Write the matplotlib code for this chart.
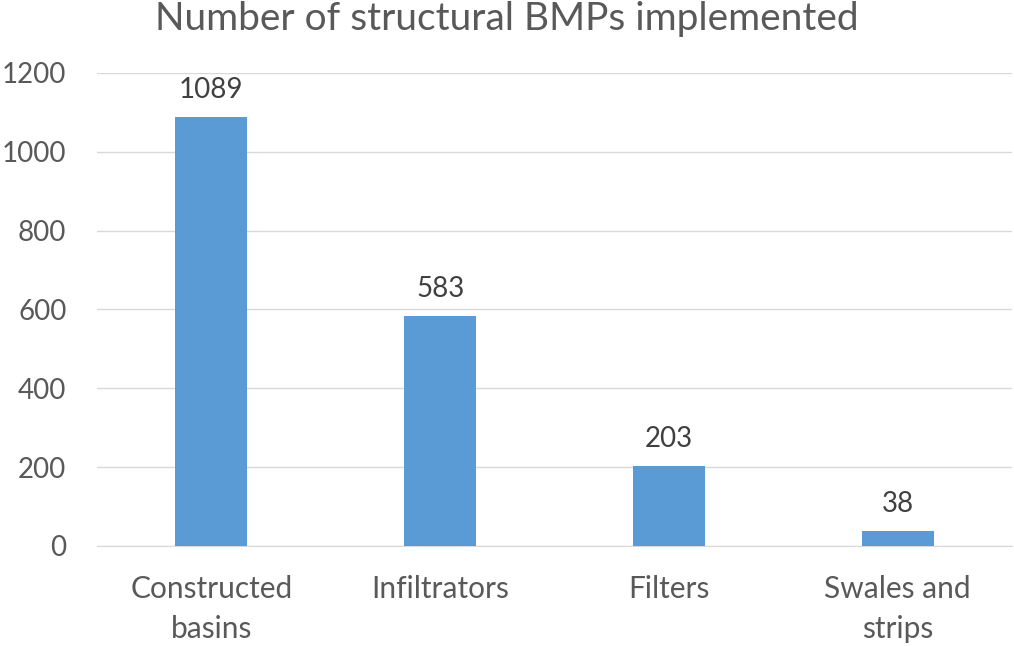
import matplotlib.pyplot as plt

categories = ["Constructed\nbasins", "Infiltrators", "Filters", "Swales and\nstrips"]
counts = [1089, 583, 203, 38]
yticks = [0, 200, 400, 600, 800, 1000, 1200]

plt.rcParams['font.family'] = ['Lato', 'DejaVu Sans']
grey = '#595959'

fig = plt.figure(figsize=(10.14, 6.46), dpi=100)
ax = fig.add_axes([0.0957, 0.1548, 0.9023, 0.7322])

x = range(len(categories))
bars = ax.bar(x, counts, width=0.315, color='#5B9BD5', zorder=3)
for b, v in zip(bars, counts):
    ax.annotate(str(v), (b.get_x() + b.get_width() / 2, v), xytext=(0, 10),
                textcoords='offset points', ha='center', va='bottom',
                fontsize=20, color='#404040')

ax.set_xlim(-0.5, len(categories) - 0.5)
ax.set_ylim(0, 1200)
ax.set_yticks(yticks)
ax.set_yticklabels([str(t) for t in yticks], fontsize=20, color=grey)
ax.set_xticks(list(x))
ax.set_xticklabels(categories, fontsize=21.5, color=grey, linespacing=1.5)
ax.tick_params(length=0)
ax.tick_params(axis='y', pad=22)
ax.tick_params(axis='x', pad=21)
ax.grid(axis='y', color='#D9D9D9', linewidth=1, zorder=0)
for s in ['top', 'right', 'left']:
    ax.spines[s].set_visible(False)
ax.spines['bottom'].set_color('#D9D9D9')

fig.suptitle("Number of structural BMPs implemented", fontsize=28, color=grey, y=0.998, x=0.5)
fig.savefig('out.png')
